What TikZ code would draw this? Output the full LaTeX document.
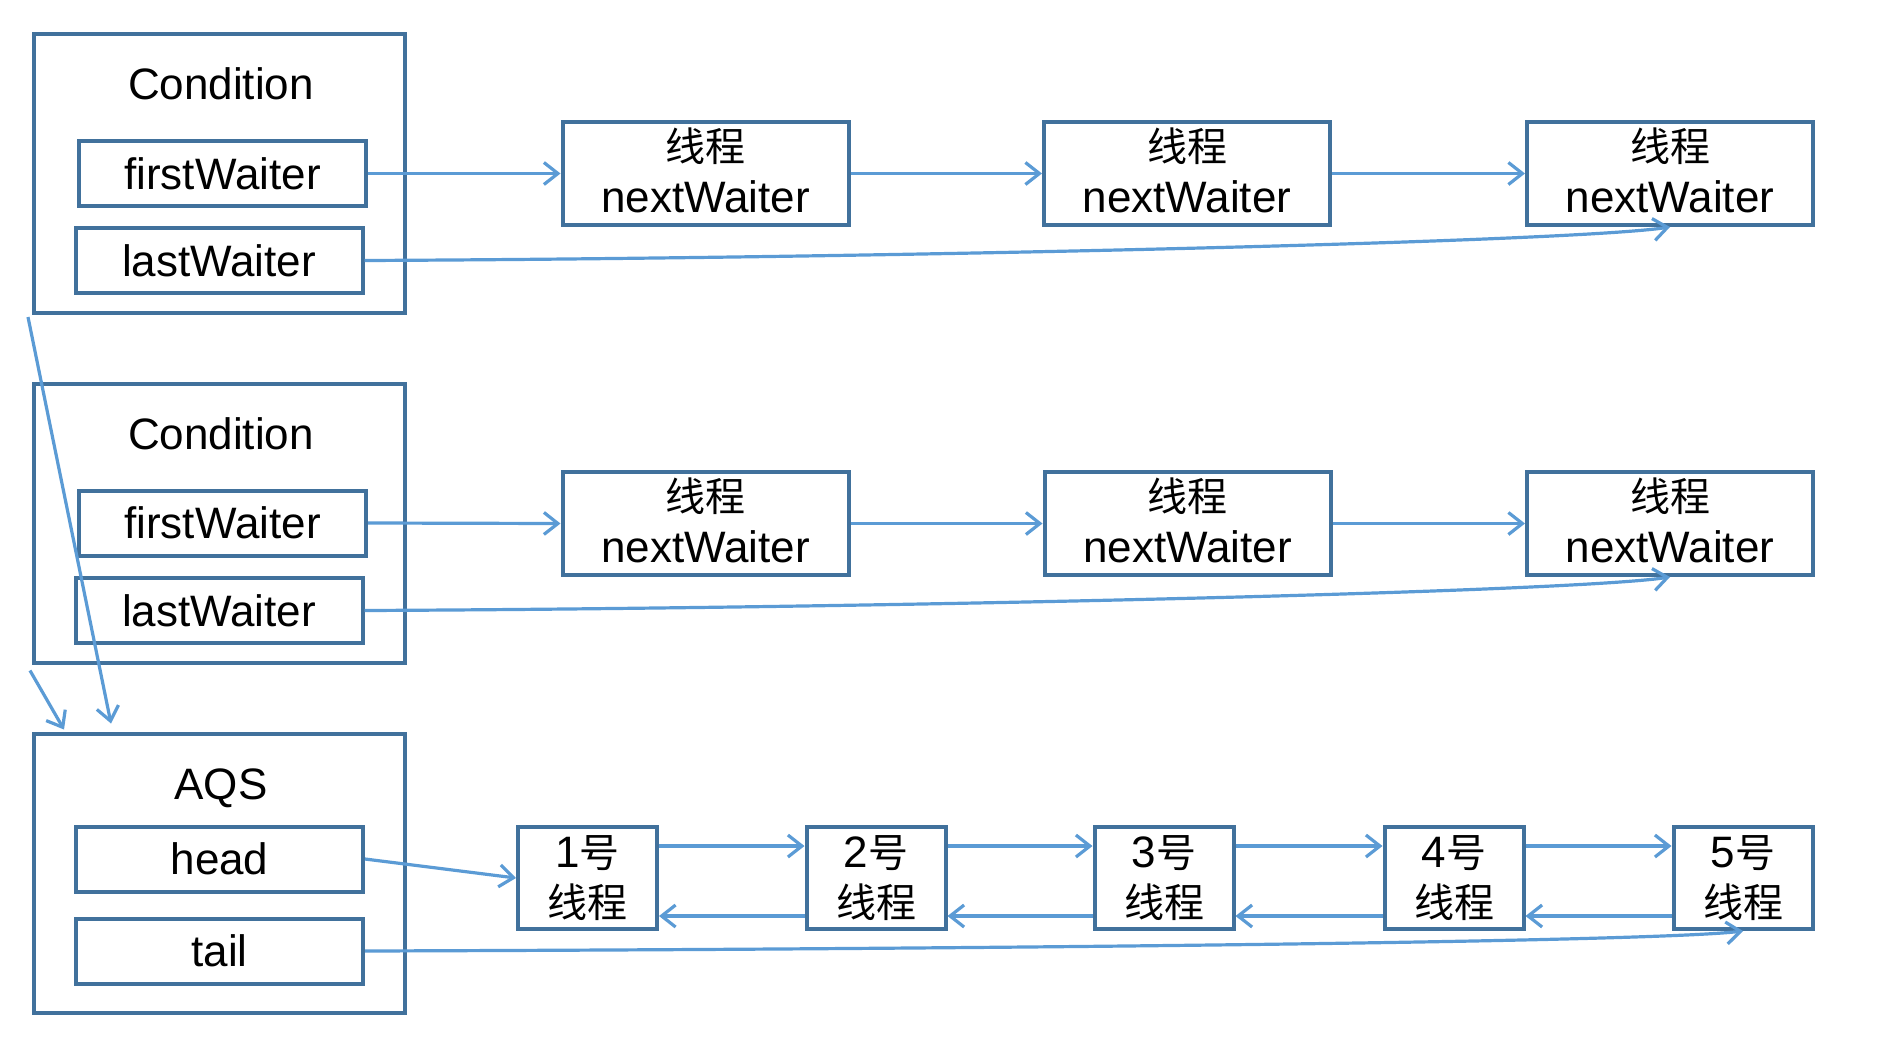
\documentclass[tikz,border=0pt]{standalone}
\usepackage{fontspec}
\setmainfont{Liberation Sans}
\newfontfamily\cjk{Noto Sans CJK SC}
\usetikzlibrary{arrows.meta,calc}
\definecolor{boxc}{RGB}{65,113,156}
\definecolor{arrc}{RGB}{91,155,213}
\newcommand\zhtxt[1]{{\cjk\fontsize{20}{25.5}\selectfont #1}}
\begin{document}
\begin{tikzpicture}[x=0.5pt,y=-0.5pt,
  bx/.style={draw=boxc, line width=2pt, rectangle, inner sep=0pt, fill=white},
  outer/.style={bx, minimum width=185.5pt, minimum height=139.5pt},
  field/.style={bx, minimum width=143.5pt, minimum height=32.5pt, font=\fontsize{22}{23}\selectfont},
  title/.style={anchor=base, font=\fontsize{22}{23}\selectfont, inner sep=0pt},
  thr/.style={bx, minimum width=143pt, minimum height=51.5pt, align=center, text depth=3pt, font=\fontsize{22}{25.5}\selectfont},
  qn/.style={bx, minimum width=69.5pt, minimum height=51pt, align=center, font=\fontsize{22}{25}\selectfont},
  arr/.style={draw=arrc, line width=1.6pt, -{Straight Barb[length=7pt,width=11pt]}}]
\useasboundingbox (0,0) rectangle (1884,1050);

% Condition 1
\node[outer] (c1) at (219.5,173.5) {};
\node[title] (c1t) at (221,99) {Condition};
\node[field] (fw1) at (222.5,173.5) {firstWaiter};
\node[field] (lw1) at (219,260.5) {lastWaiter};
\node[thr] (t11) at (705.5,173.5) {\zhtxt{线程}\\nextWaiter};
\node[thr] (t12) at (1187,173.5) {\zhtxt{线程}\\nextWaiter};
\node[thr] (t13) at (1670,173.5) {\zhtxt{线程}\\nextWaiter};

% Condition 2
\node[outer] (c2) at (219.5,523) {};
\node[title] (c2t) at (221,449) {Condition};
\node[field] (fw2) at (222.5,523) {firstWaiter};
\node[field] (lw2) at (219,610.5) {lastWaiter};
\node[thr] (t21) at (705.5,523.5) {\zhtxt{线程}\\nextWaiter};
\node[thr] (t22) at (1187.5,523.5) {\zhtxt{线程}\\nextWaiter};
\node[thr] (t23) at (1670,523.5) {\zhtxt{线程}\\nextWaiter};

% AQS
\node[outer] (aqs) at (219.5,873) {};
\node[title] (aqst) at (221,799) {AQS};
\node[field] (head) at (219.5,859) {head};
\node[field] (tail) at (219.5,951) {tail};
\node[qn] (n1) at (587.5,878) {1\zhtxt{号}\\\zhtxt{线程}};
\node[qn] (n2) at (876,878) {2\zhtxt{号}\\\zhtxt{线程}};
\node[qn] (n3) at (1164,878) {3\zhtxt{号}\\\zhtxt{线程}};
\node[qn] (n4) at (1454,878) {4\zhtxt{号}\\\zhtxt{线程}};
\node[qn] (n5) at (1743,878) {5\zhtxt{号}\\\zhtxt{线程}};

% connectors row 1
\draw[arr] (fw1.east) -- (t11.west);
\draw[arr] (t11.east) -- (t12.west);
\draw[arr] (t12.east) -- (t13.west);
\draw[arr] (lw1.east) .. controls (900,258) and (1570,242) .. (t13.south);

% connectors row 2
\draw[arr] (fw2.east) -- (t21.west);
\draw[arr] (t21.east) -- (t22.west);
\draw[arr] (t22.east) -- (t23.west);
\draw[arr] (lw2.east) .. controls (900,608) and (1570,592) .. (t23.south);

% AQS queue
\draw[arr] (head.east) -- (n1.west);
\foreach \a/\b in {n1/n2,n2/n3,n3/n4,n4/n5}{
  \draw[arr] ($(\a.east)+(0,-32)$) -- ($(\b.west)+(0,-32)$);
  \draw[arr] ($(\b.west)+(0,38)$) -- ($(\a.east)+(0,38)$);
}
\draw[arr] (tail.east) .. controls (1000,949) and (1650,942) .. (n5.south);

% Condition -> AQS
\draw[arr] ($(c1.south west)+(-4,2)$) -- ($(aqs.north west)+(79,-8)$);
\draw[arr] ($(c2.south west)+(-2,6)$) -- ($(aqs.north west)+(32,-2)$);
\end{tikzpicture}
\end{document}
